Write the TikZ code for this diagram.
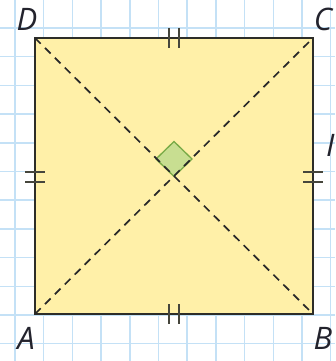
\documentclass[tikz,border=0pt]{standalone}
\usepackage{fontspec}
\setmainfont{Open Sans}
\begin{document}
\begin{tikzpicture}[x=1pt,y=-1pt,
  gridline/.style={draw={rgb,255:red,196;green,225;blue,246},line width=1.5pt},
  sqedge/.style={draw={rgb,255:red,45;green,45;blue,40},line width=2pt,fill={rgb,255:red,255;green,240;blue,168}},
  diag/.style={draw={rgb,255:red,40;green,40;blue,40},line width=1.7pt,dash pattern=on 8pt off 6pt},
  tick/.style={draw={rgb,255:red,70;green,70;blue,60},line width=1.5pt},
  rmark/.style={draw={rgb,255:red,120;green,170;blue,70},line width=1.3pt,fill={rgb,255:red,200;green,222;blue,145}},
  lab/.style={font=\fontsize{31}{36}\selectfont\itshape,text={rgb,255:red,35;green,35;blue,45},inner sep=0pt}]
\useasboundingbox (0,0) rectangle (335,361);
\fill[white] (0,0) rectangle (335,361);
% grid
\foreach \i in {0,...,11} {
  \draw[gridline] ({15+28.7*\i},0) -- ({15+28.7*\i},361);
}
\foreach \j in {-1,...,12} {
  \draw[gridline] (0,{28+28.7*\j}) -- (335,{28+28.7*\j});
}
% corners
\coordinate (A) at (35,314);
\coordinate (B) at (313,314);
\coordinate (C) at (313,38);
\coordinate (D) at (35,38);
\coordinate (O) at (174,176.5);
% square
\draw[sqedge] (A) -- (B) -- (C) -- (D) -- cycle;
% right angle mark
\draw[rmark] (O) -- ++(18,-17.5) -- ++(-18,-17.5) -- ++(-18,17.5) -- cycle;
% diagonals
\draw[diag] (A) -- (C);
\draw[diag] (D) -- (B);
% ticks
\draw[tick] (169,28) -- (169,48) (179,28) -- (179,48);
\draw[tick] (169,304) -- (169,324) (179,304) -- (179,324);
\draw[tick] (25,172) -- (45,172) (25,182) -- (45,182);
\draw[tick] (303,172) -- (323,172) (303,182) -- (323,182);
% labels
\node[lab] (lD) at (27,19) {D};
\node[lab] (lC) at (323,19) {C};
\node[lab] (lA) at (26,338) {A};
\node[lab] (lB) at (323,338) {B};
\node[lab,anchor=west] (lI) at (326,145) {I};
\end{tikzpicture}
\end{document}
